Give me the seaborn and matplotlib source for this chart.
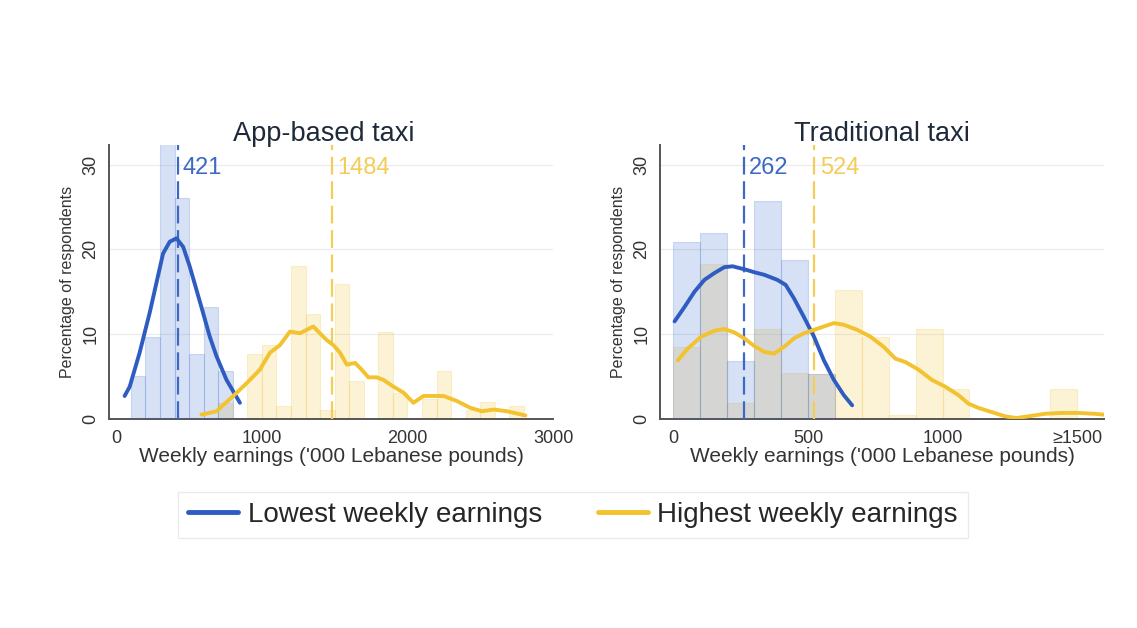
import numpy as np
import seaborn as sns
import matplotlib.pyplot as plt
from matplotlib.lines import Line2D

# histogram bars: left edge of each 100-wide bin and % of respondents
app_low_bins = [100, 200, 300, 400, 500, 600, 700]
app_low_pct = [5.0, 9.6, 33.0, 26.1, 7.6, 13.2, 5.6]
app_high_bins = [700, 800, 900, 1000, 1100, 1200, 1300, 1400, 1500, 1600, 1700,
                 1800, 1900, 2000, 2100, 2200, 2300, 2400, 2500, 2600, 2700]
app_high_pct = [1.9, 0, 7.7, 8.7, 1.5, 18.0, 12.4, 1.0, 15.9, 4.5, 0,
                10.2, 3.0, 0, 2.3, 5.6, 0, 1.0, 2.0, 0, 1.5]

trad_low_bins = [0, 100, 200, 300, 400, 500]
trad_low_pct = [20.9, 21.9, 6.8, 25.7, 18.8, 5.3]
trad_high_bins = [0, 100, 200, 300, 400, 500, 600, 700, 800, 900, 1000, 1100, 1200, 1300, 1400]
trad_high_pct = [8.5, 18.3, 1.9, 10.6, 5.4, 5.3, 15.2, 9.6, 0.4, 10.6, 3.5, 0, 0, 0, 3.5]

# smoothed density curves
app_low_x = [57, 92, 160, 229, 275, 321, 367, 413, 459, 504, 551, 596, 642, 688, 757, 849]
app_low_y = [2.7, 3.8, 7.8, 12.5, 16.0, 19.5, 20.9, 21.3, 20.3, 18.0, 15.2, 12.5, 9.7, 7.4, 4.6, 1.9]
app_high_x = [585, 688, 803, 895, 986, 1055, 1124, 1193, 1262, 1353, 1445, 1491, 1537, 1583,
              1640, 1686, 1732, 1789, 1835, 1904, 1972, 2041, 2110, 2248, 2340, 2432, 2512,
              2592, 2684, 2810]
app_high_y = [0.5, 0.9, 2.7, 4.2, 5.8, 7.8, 8.7, 10.3, 10.1, 10.9, 9.3, 8.7, 7.8, 6.4,
              6.6, 5.8, 4.9, 4.9, 4.6, 3.8, 3.1, 1.9, 2.7, 2.7, 2.1, 1.3, 0.9,
              1.1, 0.9, 0.4]

trad_low_x = [4, 41, 78, 115, 152, 189, 220, 244, 269, 300, 337, 386, 417, 448, 485, 522,
              559, 596, 633, 664]
trad_low_y = [11.5, 13.2, 15.0, 16.4, 17.2, 17.9, 18.0, 17.8, 17.6, 17.3, 17.0, 16.4, 15.8,
              14.2, 12.0, 9.7, 6.9, 4.6, 2.8, 1.6]
trad_high_x = [16, 53, 103, 152, 189, 226, 263, 300, 337, 374, 411, 448, 485, 522, 559, 596,
               633, 683, 732, 781, 825, 862, 911, 960, 1010, 1059, 1096, 1133, 1183, 1232,
               1275, 1319, 1380, 1442, 1504, 1565, 1600]
trad_high_y = [6.9, 8.3, 9.7, 10.4, 10.6, 10.2, 9.5, 8.6, 7.9, 7.7, 8.5, 9.5, 10.1, 10.5,
               10.9, 11.3, 11.1, 10.5, 9.7, 8.5, 7.1, 6.7, 5.8, 4.6, 3.8, 2.8, 1.8, 1.3,
               0.8, 0.3, 0.1, 0.3, 0.6, 0.7, 0.7, 0.6, 0.5]

app_medians = [421, 1484]
trad_medians = [262, 524]

app_ticks = [0, 1000, 2000, 3000]
app_ticklabels = ['0', '1000', '2000', '3000']
trad_ticks = [0, 500, 1000, 1500]
trad_ticklabels = ['0', '500', '1000', '\u22651500']

BLUE = '#2f5cc0'
YELLOW = '#f3c22f'

sns.set_style('white')
plt.rcParams['font.family'] = ['Liberation Sans', 'DejaVu Sans']

fig = plt.figure(figsize=(11.37, 6.28), dpi=100)
ax1 = fig.add_axes([0.0959, 0.333, 0.3905, 0.436])
ax2 = fig.add_axes([0.5805, 0.333, 0.3905, 0.436])


def panel(ax, title, lbins, lpct, hbins, hpct, lx, ly, hx, hy, medians, xlim, ticks, ticklabels,
          title_x=0.5):
    ax.bar(hbins, hpct, width=100, align='edge', color=YELLOW, alpha=0.2,
           edgecolor=YELLOW, linewidth=0.8, zorder=2)
    ax.bar(lbins, lpct, width=100, align='edge', color='#3a6ad0', alpha=0.2,
           edgecolor='#3a6ad0', linewidth=0.8, zorder=3)
    sns.lineplot(x=lx, y=ly, ax=ax, color=BLUE, linewidth=2.8, sort=False, zorder=5)
    sns.lineplot(x=hx, y=hy, ax=ax, color=YELLOW, linewidth=2.8, sort=False, zorder=5)
    for m, c in zip(medians, ['#3d68c6', '#f5cc55']):
        ax.axvline(m, color=c, linewidth=1.6, dashes=(8, 3), zorder=4)
        ax.text(m + (xlim[1] - xlim[0]) * 0.012, 29.6, str(m), color=c, fontsize=17,
                va='center', ha='left', zorder=6)
    ax.set_xlim(*xlim)
    ax.set_ylim(0, 32.3)
    ax.set_yticks([0, 10, 20, 30])
    ax.set_yticklabels(['0', '10', '20', '30'], rotation=90, va='center')
    ax.set_xticks(ticks)
    ax.set_xticklabels(ticklabels)
    ax.yaxis.grid(True, color='#ececec', linewidth=0.9)
    ax.set_axisbelow(True)
    for s in ['top', 'right']:
        ax.spines[s].set_visible(False)
    for s in ['left', 'bottom']:
        ax.spines[s].set_color('#555555')
        ax.spines[s].set_linewidth(1.4)
    ax.tick_params(axis='both', colors='#555555', length=5, width=1.2, labelcolor='#333333')
    ax.tick_params(axis='x', labelsize=13, pad=3)
    ax.tick_params(axis='y', labelsize=13, pad=2)
    ax.set_xlabel("Weekly earnings ('000 Lebanese pounds)", fontsize=15, color='#333333', labelpad=0)
    ax.set_ylabel('Percentage of respondents', fontsize=11.5, color='#333333', labelpad=5)
    ax.set_title(title, fontsize=19.5, color='#1e2a3a', pad=3, x=title_x)


panel(ax1, 'App-based taxi', app_low_bins, app_low_pct, app_high_bins, app_high_pct,
      app_low_x, app_low_y, app_high_x, app_high_y, app_medians, (-50, 3000),
      app_ticks, app_ticklabels, title_x=0.483)
panel(ax2, 'Traditional taxi', trad_low_bins, trad_low_pct, trad_high_bins, trad_high_pct,
      trad_low_x, trad_low_y, trad_high_x, trad_high_y, trad_medians, (-50, 1600),
      trad_ticks, trad_ticklabels)

handles = [Line2D([0], [0], color=BLUE, linewidth=3.5),
           Line2D([0], [0], color=YELLOW, linewidth=3.5)]
leg = fig.legend(handles, ['Lowest weekly earnings', 'Highest weekly earnings'],
                 loc='center', bbox_to_anchor=(0.504, 0.18), ncol=2, fontsize=20,
                 frameon=True, fancybox=False, handlelength=1.8, columnspacing=2.0,
                 borderpad=0.35, handletextpad=0.35, borderaxespad=0)
leg.get_frame().set_edgecolor('#e6e6e6')
leg.get_frame().set_linewidth(1.0)

fig.savefig('out.png', dpi=100, facecolor='white')
